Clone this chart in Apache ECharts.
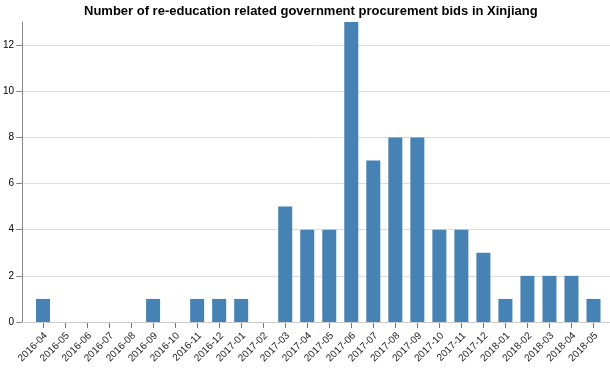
<!DOCTYPE html>
<html><head><meta charset="utf-8">
<script src="https://cdn.jsdelivr.net/npm/echarts@6/dist/echarts.min.js"></script>
<style>html,body{margin:0;padding:0;background:#fff}#c{width:610px;height:382px}</style>
</head><body><div id="c"></div>
<script>
const categories = ["2016-04","2016-05","2016-06","2016-07","2016-08","2016-09","2016-10","2016-11","2016-12","2017-01","2017-02","2017-03","2017-04","2017-05","2017-06","2017-07","2017-08","2017-09","2017-10","2017-11","2017-12","2018-01","2018-02","2018-03","2018-04","2018-05"];
const bids = [1,0,0,0,0,1,0,1,1,1,0,5,4,4,13,7,8,8,4,4,3,1,2,2,2,1];
const yMax = 13;
const yInterval = 2;
const titleText = "Number of re-education related government procurement bids in Xinjiang";

const chart = echarts.init(document.getElementById('c'), null, {renderer:'canvas'});
const font = 'Arial, "Liberation Sans", sans-serif';
chart.setOption({
  animation:false,
  title:{text:titleText,left:79,top:0,textStyle:{fontFamily:font,fontSize:13,fontWeight:'bold',color:'#000'}},
  grid:[
    {left:20,right:0,top:22,bottom:60},
    {left:32,right:5.5,top:22,bottom:60}
  ],
  xAxis:[
    {gridIndex:0,type:'category',data:categories,show:false},
    {gridIndex:1,type:'category',data:categories,boundaryGap:true,
     axisLine:{show:false},
     axisTick:{show:true,alignWithLabel:true,length:6,lineStyle:{color:'#777'}},
     axisLabel:{rotate:45,interval:0,fontFamily:font,fontSize:10,color:'#222',margin:15,padding:[0,-4,0,0]}}
  ],
  yAxis:[
    {gridIndex:0,type:'value',min:0,max:yMax,interval:yInterval,
     axisLine:{show:true,lineStyle:{color:'#888'}},
     axisTick:{show:true,length:6,lineStyle:{color:'#888'}},
     axisLabel:{fontFamily:font,fontSize:10,color:'#000',margin:8,showMaxLabel:false,
       formatter:v=> v===yMax?'':String(v)},
     splitLine:{show:true,showMaxLine:false,lineStyle:{color:'#ddd'}}},
    {gridIndex:1,type:'value',min:0,max:yMax,interval:yInterval,show:false,splitLine:{show:false}}
  ],
  series:[
    {type:'line',xAxisIndex:0,yAxisIndex:0,data:[],silent:true,
     markLine:{silent:true,symbol:'none',label:{show:false},lineStyle:{color:'#ccc',type:'solid',width:1},data:[{yAxis:0}]}},
    {type:'bar',xAxisIndex:1,yAxisIndex:1,data:bids,barWidth:14,itemStyle:{color:'#4682b4'}}
  ]
});
</script></body></html>
